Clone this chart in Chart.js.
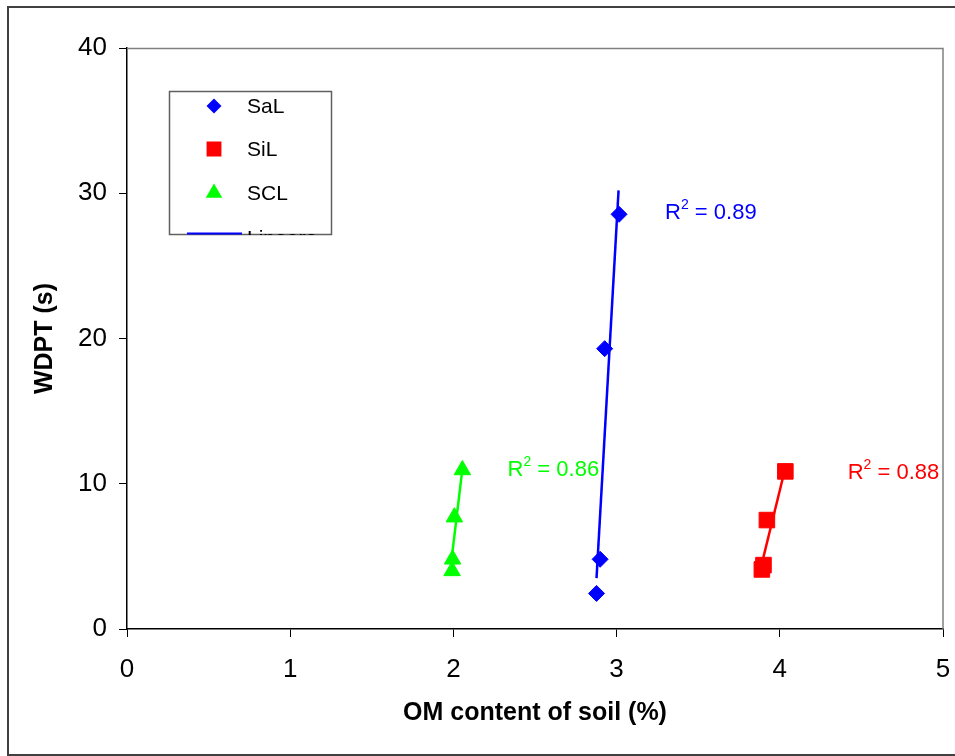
<!DOCTYPE html>
<html>
<head>
<meta charset="utf-8">
<script src="https://cdn.jsdelivr.net/npm/chart.js"></script>
<style>
  html, body { margin: 0; padding: 0; background: #fff; }
  canvas { display: block; }
</style>
</head>
<body>
<canvas id="chart" width="955" height="756"></canvas>
<script>
// ---------- Data ----------
const seriesNames = ['SaL', 'SiL', 'SCL'];
const seriesColors = ['#0000ff', '#ff0000', '#00ff00'];

// OM content (%) / WDPT (s)
const salOM = [2.877, 2.899, 2.927, 3.015];
const salWDPT = [2.45, 4.8, 19.3, 28.55];
const silOM = [3.89, 3.9, 3.921, 4.034];
const silWDPT = [4.1, 4.4, 7.5, 10.85];
const sclOM = [1.992, 1.995, 2.006, 2.055];
const sclWDPT = [4.0, 4.8, 7.7, 10.95];

// linear trend line ends
const salTrendOM = [2.877, 3.012];
const salTrendWDPT = [3.5, 30.2];
const silTrendOM = [3.89, 4.034];
const silTrendWDPT = [4.5, 11.1];
const sclTrendOM = [1.992, 2.057];
const sclTrendWDPT = [5.1, 11.2];

const r2Values = ['0.89', '0.88', '0.86'];

const xTicks = [0, 1, 2, 3, 4, 5];
const yTicks = [0, 10, 20, 30, 40];

// label anchors in data units (left / middle of text)
const r2Anchors = [[3.297, 28.64], [4.416, 10.76], [2.332, 10.95]];

const FONT = '"Liberation Sans", Arial, Helvetica, sans-serif';

function pts(xs, ys) { return xs.map((x, i) => ({ x, y: ys[i] })); }

// ---------- Marker drawing for the legend ----------
function drawMarker(ctx, style, x, y, r) {
  ctx.beginPath();
  if (style === 'rectRot') {
    ctx.moveTo(x - r, y); ctx.lineTo(x, y - r); ctx.lineTo(x + r, y); ctx.lineTo(x, y + r);
  } else if (style === 'rect') {
    const s = Math.SQRT1_2 * r;
    ctx.rect(x - s, y - s, 2 * s, 2 * s);
  } else if (style === 'triangle') {
    ctx.moveTo(x, y - r);
    ctx.lineTo(x + Math.sin(Math.PI * 2 / 3) * r, y + r / 2);
    ctx.lineTo(x - Math.sin(Math.PI * 2 / 3) * r, y + r / 2);
  }
  ctx.closePath();
  ctx.fill();
}

const markerStyles = ['rectRot', 'rect', 'triangle'];
const markerSizes = [8.5, 11.5, 10];
const legendSizes = [7.5, 10.5, 9.5];

// ---------- Extra drawing: frames, legend, R² labels ----------
const decorations = {
  id: 'decorations',
  beforeDraw(chart) {
    const ctx = chart.ctx;
    ctx.save();
    ctx.fillStyle = '#fff';
    ctx.fillRect(0, 0, chart.width, chart.height);
    ctx.restore();
  },
  afterDraw(chart) {
    const ctx = chart.ctx;
    const a = chart.chartArea;
    const xs = chart.scales.x, ys = chart.scales.y;
    ctx.save();

    // top and right border of plot area
    ctx.strokeStyle = '#808080';
    ctx.lineWidth = 1.5;
    ctx.beginPath();
    ctx.moveTo(a.left, a.top + 0.5);
    ctx.lineTo(a.right, a.top + 0.5);
    ctx.lineTo(a.right, a.bottom);
    ctx.stroke();

    // outer frame
    ctx.strokeStyle = '#404040';
    ctx.lineWidth = 2;
    ctx.strokeRect(8, 7, 960, 748);

    // R² labels
    r2Values.forEach((v, i) => {
      let px = xs.getPixelForValue(r2Anchors[i][0]);
      const py = ys.getPixelForValue(r2Anchors[i][1]);
      ctx.fillStyle = seriesColors[i];
      ctx.textBaseline = 'middle';
      ctx.textAlign = 'left';
      ctx.font = '22px ' + FONT;
      ctx.fillText('R', px, py);
      px += ctx.measureText('R').width;
      ctx.font = '14px ' + FONT;
      ctx.fillText('2', px, py - 8);
      px += ctx.measureText('2').width;
      ctx.font = '22px ' + FONT;
      ctx.fillText(' = ' + v, px, py);
    });

    // legend box (clipped like the original)
    const bx = 169.5, by = 91.5, bw = 162, bh = 143;
    ctx.fillStyle = '#fff';
    ctx.fillRect(bx, by, bw, bh);
    ctx.strokeStyle = '#606060';
    ctx.lineWidth = 1.5;
    ctx.strokeRect(bx, by, bw, bh);
    ctx.save();
    ctx.beginPath();
    ctx.rect(bx, by, bw, bh + 0.5);
    ctx.clip();
    const rowY = [106, 149, 193];
    ctx.font = '21px ' + FONT;
    ctx.textBaseline = 'middle';
    ctx.textAlign = 'left';
    seriesNames.forEach((name, i) => {
      ctx.fillStyle = seriesColors[i];
      drawMarker(ctx, markerStyles[i], 214, rowY[i], legendSizes[i]);
      ctx.fillStyle = '#000';
      ctx.fillText(name, 247, rowY[i] + 1);
    });
    ctx.strokeStyle = '#0000ff';
    ctx.lineWidth = 2;
    ctx.beginPath();
    ctx.moveTo(187, 233.5);
    ctx.lineTo(242, 233.5);
    ctx.stroke();
    ctx.fillStyle = '#000';
    ctx.fillText('Lineare', 247, 239);
    ctx.restore();

    ctx.restore();
  }
};

// ---------- Chart ----------
const scatterSets = [
  [salOM, salWDPT], [silOM, silWDPT], [sclOM, sclWDPT]
].map(([xv, yv], i) => ({
  label: seriesNames[i],
  data: pts(xv, yv),
  showLine: false,
  pointStyle: markerStyles[i],
  pointRadius: markerSizes[i] - 0.5,
  pointHoverRadius: markerSizes[i] - 0.5,
  backgroundColor: seriesColors[i],
  borderColor: seriesColors[i],
  borderWidth: 1,
  order: 2
}));

const trendSets = [
  [salTrendOM, salTrendWDPT], [silTrendOM, silTrendWDPT], [sclTrendOM, sclTrendWDPT]
].map(([xv, yv], i) => ({
  label: 'Lineare ' + seriesNames[i],
  data: pts(xv, yv),
  showLine: true,
  pointRadius: 0,
  borderColor: seriesColors[i],
  borderWidth: 2.5,
  fill: false,
  order: 1
}));

new Chart(document.getElementById('chart').getContext('2d'), {
  type: 'scatter',
  data: { datasets: scatterSets.concat(trendSets) },
  options: {
    responsive: false,
    animation: false,
    layout: { padding: { left: 10, top: 48, right: 10, bottom: 10 } },
    plugins: { legend: { display: false }, tooltip: { enabled: false } },
    scales: {
      x: {
        type: 'linear',
        min: 0, max: 5,
        afterBuildTicks: s => { s.ticks = xTicks.map(v => ({ value: v })); },
        afterFit: s => { s.height = 117; s.paddingRight = 0; s.paddingLeft = 0; },
        grid: { drawOnChartArea: false, drawTicks: true, tickLength: 8, color: '#000' },
        border: { color: '#000', width: 1.5 },
        ticks: { color: '#000', padding: 17, font: { family: FONT, size: 26 } },
        title: {
          display: true, text: 'OM content of soil (%)', color: '#000',
          font: { family: FONT, size: 25, weight: 'bold' },
          padding: { top: 0, bottom: 18 }
        }
      },
      y: {
        type: 'linear',
        min: 0, max: 40,
        afterBuildTicks: s => { s.ticks = yTicks.map(v => ({ value: v })); },
        afterFit: s => { s.width = 117; s.paddingTop = 0; s.paddingBottom = 0; },
        grid: { drawOnChartArea: false, drawTicks: true, tickLength: 8, color: '#000' },
        border: { color: '#000', width: 1.5 },
        ticks: { color: '#000', padding: 12, font: { family: FONT, size: 26 } },
        title: {
          display: true, text: 'WDPT (s)', color: '#000',
          font: { family: FONT, size: 25, weight: 'bold' },
          padding: { top: 20, bottom: 0 }
        }
      }
    }
  },
  plugins: [decorations]
});
</script>
</body>
</html>
